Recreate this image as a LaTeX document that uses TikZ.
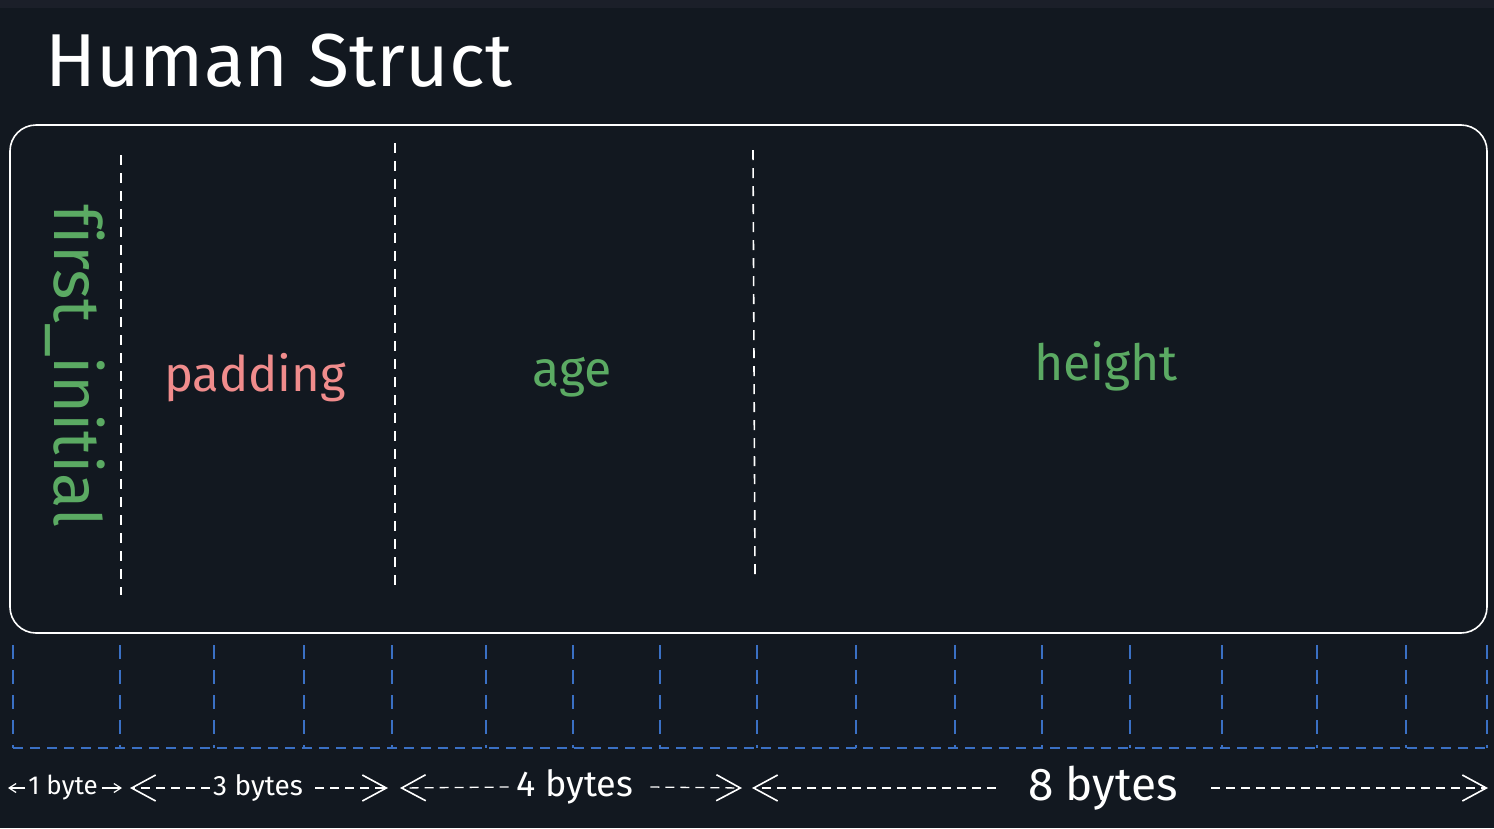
\documentclass[tikz,border=0pt]{standalone}
\usepackage{fontspec}
\setmainfont{Fira Sans}[Ligatures=NoCommon]
\usetikzlibrary{arrows.meta}
\definecolor{bg}{HTML}{121820}
\definecolor{strip}{HTML}{1B1F29}
\definecolor{fieldgreen}{HTML}{5BAA63}
\definecolor{fieldpink}{HTML}{F08C8C}
\definecolor{gridblue}{HTML}{3A70C4}
\tikzset{
  title/.style={text=white, font=\fontsize{75}{88}\selectfont, inner sep=0pt},
  field/.style={font=\fontsize{50}{58}\selectfont, inner sep=0pt},
  structbox/.style={draw=white, line width=1.6pt, rounded corners=26pt, minimum width=1477pt, minimum height=508pt, inner sep=0pt},
  divider/.style={draw=white, line width=1.6pt, dash pattern=on 10pt off 8pt},
  grid/.style={draw=gridblue, line width=1.4pt, dash pattern=on 14pt off 11pt},
  gridh/.style={draw=gridblue, line width=1.4pt, dash pattern=on 10pt off 7pt},
  sizelbl/.style={text=white, inner sep=0pt},
  span/.style={draw=white, line width=1.3pt, dash pattern=on 9pt off 6pt, -{Straight Barb[length=24pt,width=26pt,line width=1.6pt]}},
  smallspan/.style={draw=white, line width=1.2pt, -{Straight Barb[length=7pt,width=9pt,line width=1.2pt]}}
}
\begin{document}
\begin{tikzpicture}[x=1pt,y=-1pt]
\fill[bg] (0,0) rectangle (1494,828);
\fill[strip] (0,0) rectangle (1494,8);
\useasboundingbox (0,0) rectangle (1494,828);

\node[title, anchor=base west] (title) at (45,86) {Human Struct};

\node[structbox] (box) at (748.5,379) {};

% dividers
\coordinate (d1t) at (121,155); \coordinate (d1b) at (121,595);
\coordinate (d2t) at (395,143); \coordinate (d2b) at (395,588);
\coordinate (d3t) at (753,150); \coordinate (d3b) at (755,576);
\draw[divider] (d1t) -- (d1b);
\draw[divider] (d2t) -- (d2b);
\draw[divider] (d3t) -- (d3b);

% field labels
\node[field, text=fieldgreen, rotate=-90, font=\fontsize{65}{76}\selectfont] (first) at (75,366) {f\kern0pt irst\_initial};
\node[field, text=fieldpink, font=\fontsize{49}{58}\selectfont] (padding) at (255,378) {padding};
\node[field, text=fieldgreen] (age) at (572,377) {age};
\node[field, text=fieldgreen] (height) at (1106,366) {height};

% byte grid
\foreach \i/\x in {0/13,1/120,2/214,3/304,4/392,5/486,6/573,7/660,8/757,9/856,10/955,11/1042,12/1130,13/1222,14/1317,15/1406,16/1487}{
  \coordinate (g\i t) at (\x,645);
  \coordinate (g\i b) at (\x,748);
  \draw[grid] (g\i t) -- (g\i b);
}
\draw[gridh] (g0b) -- (g16b);

% size labels
\node[sizelbl, font=\fontsize{26}{30}\selectfont] (b1) at (63,788) {1 byte};
\node[sizelbl, font=\fontsize{28}{33}\selectfont] (b3) at (258,788) {3 bytes};
\node[sizelbl, font=\fontsize{36}{43}\selectfont] (b4) at (575,787) {4 bytes};
\node[sizelbl, font=\fontsize{46}{54}\selectfont] (b8) at (1103,788) {8 bytes};

\coordinate (a1l) at (8,788);   \coordinate (a1r) at (122,788);
\coordinate (a3l) at (130,788); \coordinate (a3r) at (388,788);
\coordinate (a4l) at (400,788); \coordinate (a4r) at (742,788);
\coordinate (a8l) at (752,788); \coordinate (a8r) at (1488,788);

\draw[smallspan] ([xshift=-3pt]b1.west) -- (a1l);
\draw[smallspan] ([xshift=4pt]b1.east) -- (a1r);
\draw[span] ([xshift=-3pt]b3.west) -- (a3l);
\draw[span] ([xshift=12pt]b3.east) -- (a3r);
\draw[span] ([xshift=-8pt]b4.west) -- (a4l);
\draw[span] ([xshift=17pt]b4.east) -- (a4r);
\draw[span] ([xshift=-32pt]b8.west) -- (a8l);
\draw[span] ([xshift=33pt]b8.east) -- (a8r);
\end{tikzpicture}
\end{document}
